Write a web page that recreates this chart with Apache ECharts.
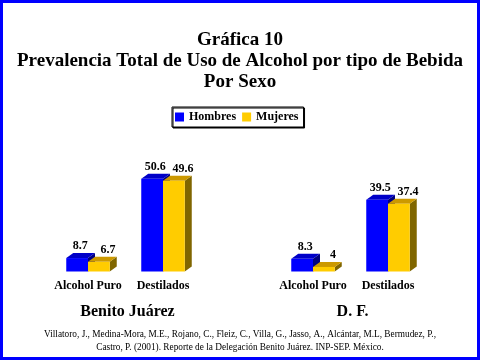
<!DOCTYPE html>
<html>
<head>
<meta charset="utf-8">
<script src="https://cdn.jsdelivr.net/npm/echarts@6/dist/echarts.min.js"></script>
<style>
html,body{margin:0;padding:0;background:#fff;}
#chart{width:480px;height:360px;}
</style>
</head>
<body>
<div id="chart"></div>
<script>
const categories = ['Alcohol Puro', 'Destilados', '', 'Alcohol Puro', 'Destilados'];
const hombres = [8.7, 50.6, null, 8.3, 39.5];
const mujeres = [6.7, 49.6, null, 4, 37.4];
const groupNames = ['Benito Juárez', 'D. F.'];
const groupCats = [[0, 1], [3, 4]];
const seriesNames = ['Hombres', 'Mujeres'];
const titleLines = ['Gráfica 10', 'Prevalencia Total de Uso de Alcohol por tipo de Bebida', 'Por Sexo'];
const citation = ['Villatoro, J., Medina-Mora, M.E., Rojano, C., Fleiz, C., Villa, G., Jasso, A., Alcántar, M.L, Bermudez, P.,',
                  'Castro, P. (2001). Reporte de la Delegación Benito Juárez. INP-SEP. México.'];

const FONT = '"Liberation Serif","Times New Roman",serif';
const Y_MIN = 1.6, Y_MAX = 60;
const DX = 7, DY = 5;

const styles = [
  {front: '#0000FF', top: '#0000C8', side: '#000080', side_: 'left', labelOff: 3},
  {front: '#FFCC00', top: '#CC9900', side: '#806600', side_: 'right', labelOff: 9}
];

function makeRender(st) {
  return function (params, api) {
    const ci = api.value(0), v = api.value(1);
    const pt = api.coord([ci, v]);
    const base = api.coord([ci, Y_MIN]);
    const bw = api.size([1, 0])[0] * 0.29;
    const x0 = st.side_ === 'left' ? pt[0] - bw : pt[0];
    const x1 = x0 + bw;
    const yT = pt[1], yB = base[1];
    return {
      type: 'group',
      children: [
        {type: 'polygon', shape: {points: [[x1, yT], [x1 + DX, yT - DY], [x1 + DX, yB - DY], [x1, yB]]}, style: {fill: st.side}},
        {type: 'polygon', shape: {points: [[x0, yT], [x0 + DX, yT - DY], [x1 + DX, yT - DY], [x1, yT]]}, style: {fill: st.top}},
        {type: 'rect', shape: {x: x0, y: yT, width: bw, height: yB - yT}, style: {fill: st.front}},
        {type: 'text', x: x0 + bw / 2 + st.labelOff, y: yT - DY - 1,
         style: {text: String(v), align: 'center', verticalAlign: 'bottom', font: 'bold 12px ' + FONT, fill: '#000'}}
      ]
    };
  };
}

function toData(arr) {
  const out = [];
  arr.forEach((v, i) => { if (v !== null) out.push([i, v]); });
  return out;
}

const chart = echarts.init(document.getElementById('chart'), null, {renderer: 'canvas'});
const option = {
  animation: false,
  backgroundColor: '#fff',
  title: [
    {text: titleLines.join('\n'), left: 240, top: 30, padding: 0, textAlign: 'center',
     textStyle: {fontFamily: FONT, fontSize: 19, fontWeight: 'bold', lineHeight: 21, color: '#000'}},
    {text: citation.join('\n'), left: 240, top: 328, padding: 0, textAlign: 'center',
     textStyle: {fontFamily: FONT, fontSize: 9.3, fontWeight: 'normal', lineHeight: 13, color: '#000'}}
  ],
  legend: {
    data: seriesNames.map((n, i) => ({name: n, icon: 'rect', itemStyle: {color: styles[i].front}})),
    left: 172, top: 107, itemWidth: 9, itemHeight: 9, itemGap: 6,
    padding: [4, 5, 4, 3], borderColor: '#000', borderWidth: 1,
    shadowColor: '#000', shadowOffsetX: 1, shadowOffsetY: 1, shadowBlur: 0, backgroundColor: '#fff',
    textStyle: {fontFamily: FONT, fontSize: 12, fontWeight: 'bold', color: '#000'}
  },
  grid: {left: 50.5, right: 480 - 425.5, top: 161, bottom: 88.5, containLabel: false},
  xAxis: {
    type: 'category', data: categories,
    axisLine: {show: false}, axisTick: {show: false}, splitLine: {show: false},
    axisLabel: {margin: 8, fontFamily: FONT, fontSize: 12, fontWeight: 'bold', color: '#000', interval: 0}
  },
  yAxis: {type: 'value', min: Y_MIN, max: Y_MAX, show: false, splitLine: {show: false}},
  series: [
    {name: seriesNames[0], type: 'custom', renderItem: makeRender(styles[0]), data: toData(hombres), clip: false,
     itemStyle: {color: styles[0].front}, encode: {x: 0, y: 1}},
    {name: seriesNames[1], type: 'custom', renderItem: makeRender(styles[1]), data: toData(mujeres), clip: false,
     itemStyle: {color: styles[1].front}, encode: {x: 0, y: 1}}
  ],
  graphic: [
    {type: 'rect', z: 100, silent: true, shape: {x: 1.5, y: 1.5, width: 477, height: 357},
     style: {fill: null, stroke: '#0000FF', lineWidth: 3}}
  ]
};
chart.setOption(option);

const groupGraphics = groupNames.map((g, i) => {
  const a = chart.convertToPixel({xAxisIndex: 0}, groupCats[i][0]);
  const b = chart.convertToPixel({xAxisIndex: 0}, groupCats[i][1]);
  return {type: 'text', x: (a + b) / 2 + 2, y: 312,
          style: {text: g, align: 'center', verticalAlign: 'middle', font: 'bold 16px ' + FONT, fill: '#000'}};
});
chart.setOption({graphic: option.graphic.concat(groupGraphics)});
</script>
</body>
</html>
